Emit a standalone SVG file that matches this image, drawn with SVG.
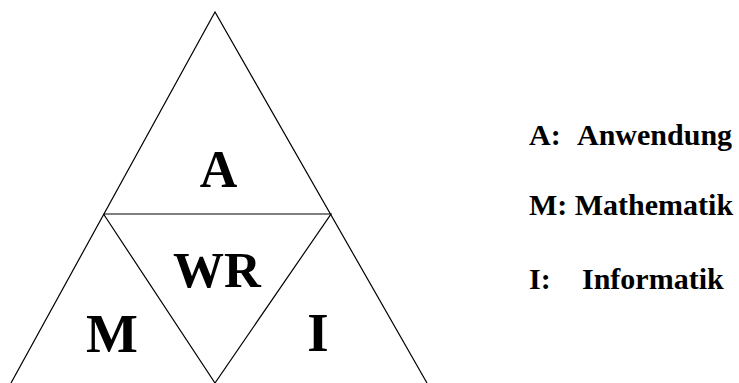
<svg xmlns="http://www.w3.org/2000/svg" width="739" height="383" viewBox="0 0 739 383">
<style>
.ln{fill:none;stroke:#000;stroke-width:1.2}
.big{font-family:"Liberation Serif","Times New Roman",serif;font-weight:bold;fill:#000;text-anchor:middle}
.leg{font-family:"Liberation Serif","Times New Roman",serif;font-weight:bold;font-size:30px;fill:#000}
</style>
<rect width="739" height="383" fill="#fff"/>
<g id="connectors">
<polyline class="ln" points="11,383 215,12 427,383"/>
<polyline class="ln" points="103.5,214 331,214 215,383 103.5,214"/>
</g>
<g id="node-A"><text class="big" x="218.5" y="187" font-size="52">A</text></g>
<g id="node-WR"><text class="big" x="217" y="287" font-size="51">WR</text></g>
<g id="node-M"><text class="big" x="112" y="352" font-size="55">M</text></g>
<g id="node-I"><text class="big" x="318" y="351" font-size="55">I</text></g>
<g id="legend">
<text class="leg" x="529" y="145">A:</text><text class="leg" x="577" y="145">Anwendung</text>
<text class="leg" x="529" y="215">M: Mathematik</text>
<text class="leg" x="529" y="289">I:</text><text class="leg" x="582" y="289">Informatik</text>
</g>
</svg>
